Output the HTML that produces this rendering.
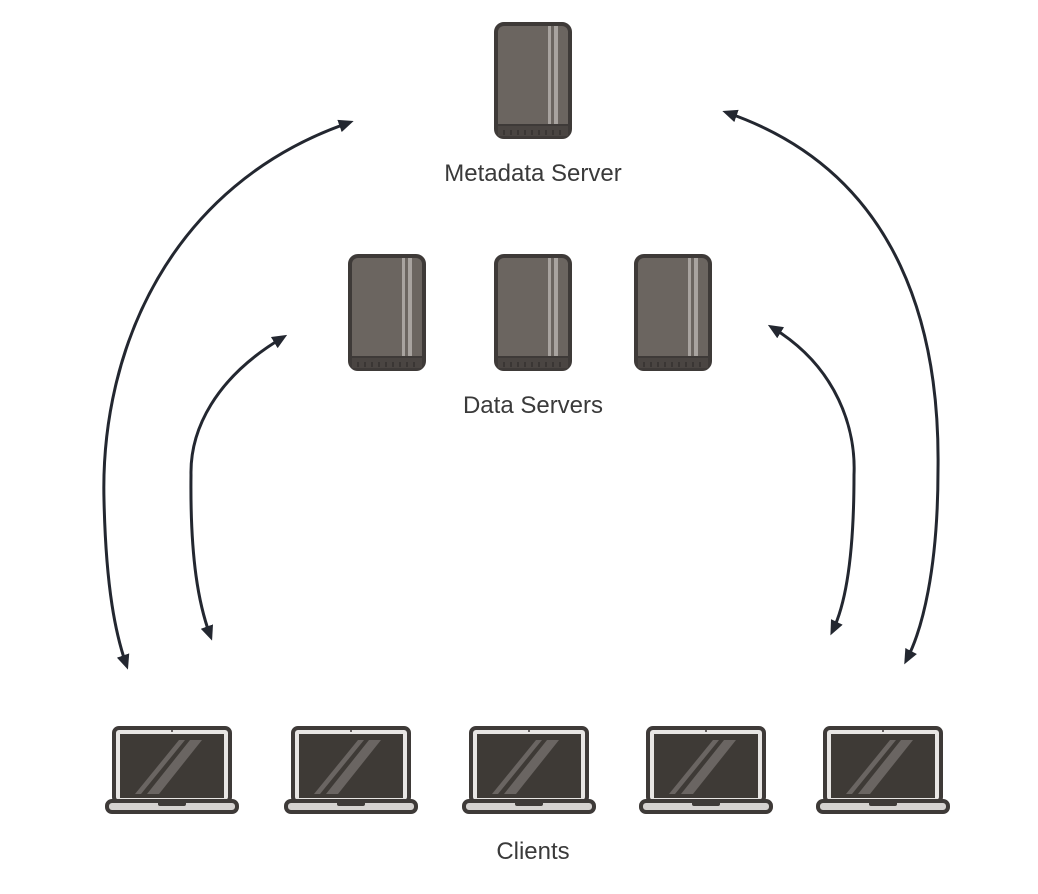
<!DOCTYPE html>
<html><head><meta charset="utf-8"><style>
html,body{margin:0;padding:0;background:#fff;}
svg{display:block}
text{font-family:"Liberation Sans",sans-serif;font-size:24px;fill:#3a3a3a;text-anchor:middle}
</style></head><body>
<svg width="1038" height="894" viewBox="0 0 1038 894" xmlns="http://www.w3.org/2000/svg">
<defs>
<marker id="a" markerWidth="15" markerHeight="13" refX="9" refY="6.5" orient="auto-start-reverse" markerUnits="userSpaceOnUse" viewBox="0 0 15 13">
<path d="M0,0 L15,6.5 L0,13 Z" fill="#232730"/>
</marker>
<g id="srv">
<rect x="2" y="2" width="74" height="113" rx="8" fill="#6b6560" stroke="#3e3a38" stroke-width="4"/>
<rect x="4" y="103" width="70" height="11" fill="#4a4542"/>
<line x1="4" y1="103" x2="74" y2="103" stroke="#3e3a38" stroke-width="2"/>
<rect x="54" y="4" width="3" height="98" fill="#a8a39f"/>
<rect x="60" y="4" width="4" height="98" fill="#a8a39f"/>
<g fill="#3a3634"><rect x="9" y="108" width="2" height="5"/><rect x="16" y="108" width="2" height="5"/><rect x="23" y="108" width="2" height="5"/><rect x="30" y="108" width="2" height="5"/><rect x="37" y="108" width="2" height="5"/><rect x="44" y="108" width="2" height="5"/><rect x="51" y="108" width="2" height="5"/><rect x="58" y="108" width="2" height="5"/><rect x="65" y="108" width="2" height="5"/></g>
</g>
<g id="lap">
<rect x="9" y="2" width="116" height="74" rx="5" fill="#e8e6e4" stroke="#3e3a38" stroke-width="4"/>
<rect x="15" y="8" width="104" height="64" fill="#3e3a36"/>
<circle cx="67" cy="5" r="1" fill="#3e3a38"/>
<polygon points="30,68 36,68 80,14 74,14" fill="#6a6562"/>
<polygon points="42,68 54,68 97,14 85,14" fill="#6a6562"/>
<rect x="2" y="75" width="130" height="11" rx="5" fill="#d5d2d0" stroke="#3e3a38" stroke-width="4"/>
<rect x="53" y="75" width="28" height="5" rx="2" fill="#3e3a38"/>
</g>
</defs>
<use href="#srv" x="494" y="22"/>
<use href="#srv" x="348" y="254"/>
<use href="#srv" x="494" y="254"/>
<use href="#srv" x="634" y="254"/>
<use href="#lap" x="105" y="726"/>
<use href="#lap" x="284" y="726"/>
<use href="#lap" x="462" y="726"/>
<use href="#lap" x="639" y="726"/>
<use href="#lap" x="816" y="726"/>
<g fill="none" stroke="#232730" stroke-width="3" marker-start="url(#a)" marker-end="url(#a)">
<path d="M348,123 C170,185 100,350 104,500 C106,590 116,635 126,664"/>
<path d="M282,338 C215,378 190,430 191,475 C190,560 199,605 210,635"/>
<path d="M728,113 C906,175 940,340 938,470 C938,570 922,630 907,659"/>
<path d="M773,328 C838,368 856,430 854,475 C854,560 845,605 833,630"/>
</g>
<text x="533" y="181">Metadata Server</text>
<text x="533" y="413">Data Servers</text>
<text x="533" y="859">Clients</text>
</svg>
</body></html>
